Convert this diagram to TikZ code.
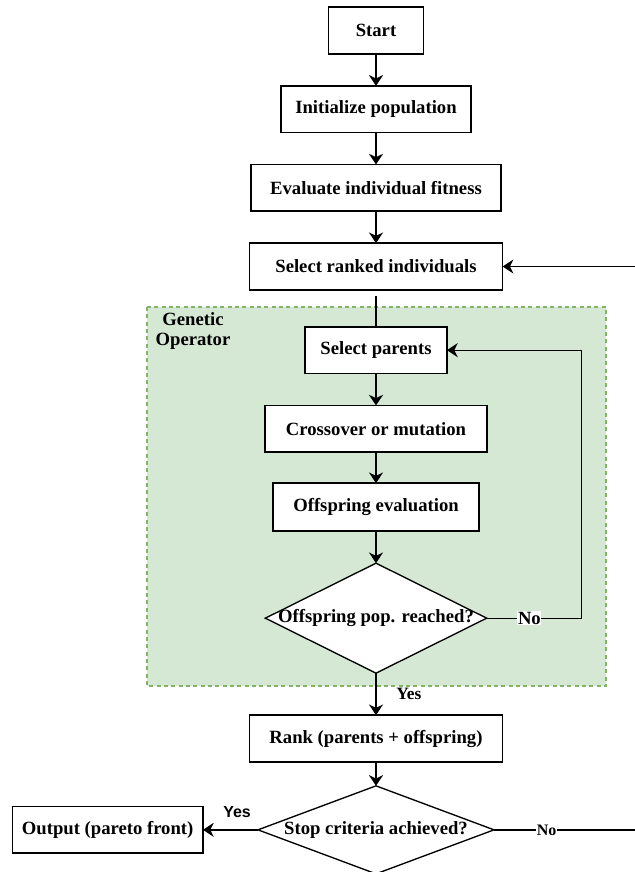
\documentclass[tikz,border=0pt]{standalone}
\usepackage{fontspec}
\setmainfont{Liberation Serif}
\newfontfamily\arialfont{Liberation Sans}
\usepackage{tikz}
\usetikzlibrary{positioning, arrows.meta, shapes.geometric}
\definecolor{opfill}{RGB}{213,232,212}
\definecolor{opline}{RGB}{130,179,102}
\newcommand{\boxfont}{\fontsize{14}{15}\selectfont\bfseries}

\begin{document}
\begin{tikzpicture}[
  x=0.75pt, y=-0.75pt,
  node distance=24pt,
  box/.style={draw, line width=1.1pt, fill=white, minimum height=35pt,
              inner sep=0pt, outer sep=0pt, font=\boxfont},
  dec/.style={draw, diamond, line width=1pt, fill=white, inner sep=0pt,
              outer sep=0pt, font=\boxfont},
  lab/.style={font=\boxfont, inner sep=0.5pt},
  arr/.style={-{Stealth[length=8pt, width=10.5pt, inset=2.5pt]}, line width=1.5pt},
  fb/.style={-{Stealth[length=8pt, width=10.5pt, inset=2.5pt]}, line width=1pt}
]
\useasboundingbox (0,0) rectangle (635,872);
\clip (0,0) rectangle (635,872);
% genetic operator region
\draw[fill=opfill, draw=opline, line width=1pt, dash pattern=on 3pt off 2.5pt]
  (147,307) rectangle (606,686);
\node[font=\boxfont, align=center] (genop) at (193,331) {Genetic\\Operator};

\node[box, minimum width=71pt] (start) at (376,30.5) {Start};
\node[box, minimum width=142.5pt, below=of start] (init) {Initialize population};
\node[box, minimum width=187.5pt, below=of init] (eval) {Evaluate individual fitness};
\node[box, minimum width=190pt, below=of eval] (selrank) {Select ranked individuals};
\node[box, minimum width=106.5pt, below=27.75pt of selrank] (selpar) {Select parents};
\node[box, minimum width=166.5pt, below=of selpar] (cross) {Crossover or mutation};
\node[box, minimum width=154.5pt, minimum height=36pt, below=23.25pt of cross] (offev) {Offspring evaluation};
\node[dec, minimum width=166pt, minimum height=82.5pt, below=of offev] (popok)
  {\makebox[0pt]{Offspring pop. reached?}};
\node[box, minimum width=190pt, below=31.5pt of popok] (rank) {Rank (parents + offspring)};
\node[dec, minimum width=177pt, minimum height=66pt, below=18pt of rank] (stop)
  {\makebox[0pt]{Stop criteria achieved?}};
\node[box, minimum width=143pt, left=41.25pt of stop] (out) {Output (pareto front)};

\draw[arr] (start) -- (init);
\draw[arr] (init) -- (eval);
\draw[arr] (eval) -- (selrank);
\draw[line width=0.8pt, shorten <=4.5pt] (selrank) -- (selpar);
\draw[arr] (selpar) -- (cross);
\draw[arr] (cross) -- (offev);
\draw[arr] (offev) -- (popok);
\draw[arr] (popok) -- node[lab, font=\fontsize{13}{14}\selectfont\bfseries, anchor=west, xshift=14pt] (yes1) {Yes} (rank);
\draw[fb] (popok.east) -- node[lab, fill=white, pos=0.45] (no1) {No} ++(95,0) |- (selpar.east);
\draw[arr] (rank) -- (stop);
\draw[fb] (stop.west) -- node[lab, font=\arialfont\fontsize{12}{13}\selectfont\bfseries, above=8pt, pos=0.38] (yes2) {Yes} (out.east);
\draw[fb] (stop.east) -- node[lab, font=\fontsize{12}{13}\selectfont\bfseries, fill=white, pos=0.31] (no2) {No} ++(170,0) |- (selrank.east);
\end{tikzpicture}
\end{document}
